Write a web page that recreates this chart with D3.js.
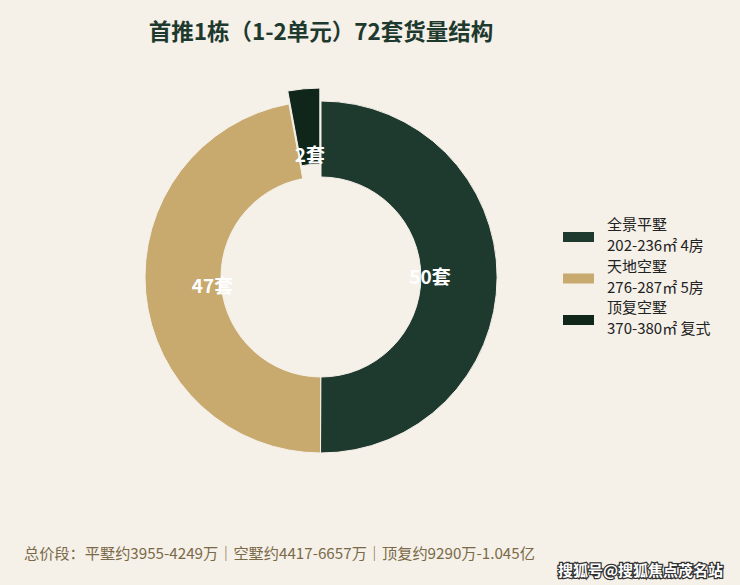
<!DOCTYPE html>
<html lang="zh">
<head>
    <meta charset="UTF-8">
    <title>首推1栋货量结构</title>
    <script src="https://cdnjs.cloudflare.com/ajax/libs/d3/7.8.5/d3.min.js"></script>
    <style>
        body { margin: 0; background: #f5f0e8; }
        text { font-family: "Noto Sans CJK SC", "Noto Sans", sans-serif; }
    </style>
</head>
<body>
    <script>
        // data
        var names = ["全景平墅", "天地空墅", "顶复空墅"];
        var areas = ["202-236㎡ 4房", "276-287㎡ 5房", "370-380㎡ 复式"];
        var counts = [50, 47, 2];
        var colors = ["#1e3a2f", "#c8a96e", "#10261a"];
        var exploded = [false, false, true];
        var title = "首推1栋（1-2单元）72套货量结构";
        var footer = "总价段：平墅约3955-4249万｜空墅约4417-6657万｜顶复约9290万-1.045亿";
        var watermark = "搜狐号@搜狐焦点茂名站";

        var W = 740, H = 585;
        var cx = 321, cy = 277, outerR = 176, innerR = 100, labelR = 109, offset = 13;
        var minAngle = 10.5 * Math.PI / 180;

        var svg = d3.select("body")
            .append("svg")
            .attr("width", W)
            .attr("height", H)
            .style("background-color", "#f5f0e8");

        // title
        svg.append("text")
            .attr("x", cx)
            .attr("y", 40)
            .attr("text-anchor", "middle")
            .attr("font-size", 22.5)
            .attr("font-weight", "bold")
            .attr("fill", "#1e3a2f")
            .text(title);

        // pie with a minimum slice angle, so the tiny slice stays visible
        var arcs = d3.pie().sort(null).value(function(d) { return d; })(counts);
        var total = d3.sum(counts);
        var small = arcs.filter(function(d) { return (d.value / total) * 2 * Math.PI < minAngle; });
        var smallSum = d3.sum(small, function(d) { return d.value; });
        var rest = 2 * Math.PI - small.length * minAngle;
        var a0 = 0;
        arcs.forEach(function(d) {
            var span = (d.value / total) * 2 * Math.PI < minAngle
                ? minAngle
                : rest * d.value / (total - smallSum);
            d.startAngle = a0;
            d.endAngle = a0 + span;
            a0 += span;
        });

        var arc = d3.arc().innerRadius(innerR).outerRadius(outerR);
        var labelArc = d3.arc().innerRadius(labelR).outerRadius(labelR);

        var g = svg.append("g").attr("transform", "translate(" + cx + "," + cy + ")");

        function shift(d, i) {
            if (!exploded[i]) return "translate(0,0)";
            var a = (d.startAngle + d.endAngle) / 2;
            return "translate(" + (Math.sin(a) * offset) + "," + (-Math.cos(a) * offset) + ")";
        }

        var slices = g.selectAll("g.slice")
            .data(arcs)
            .enter()
            .append("g")
            .attr("class", "slice")
            .attr("transform", shift);

        slices.append("path")
            .attr("d", arc)
            .attr("fill", function(d, i) { return colors[i]; })
            .attr("stroke", "#f5f0e8")
            .attr("stroke-width", 1);

        slices.append("text")
            .attr("transform", function(d) { return "translate(" + labelArc.centroid(d) + ")"; })
            .attr("text-anchor", "middle")
            .attr("dy", "0.35em")
            .attr("font-size", 19)
            .attr("font-weight", "bold")
            .attr("fill", "#ffffff")
            .text(function(d) { return d.value + "套"; });

        // legend
        var legendY = d3.scalePoint().domain(names).range([237, 320]);
        var legend = svg.selectAll("g.legend")
            .data(names)
            .enter()
            .append("g")
            .attr("class", "legend")
            .attr("transform", function(d) { return "translate(563," + legendY(d) + ")"; });

        legend.append("rect")
            .attr("x", 0)
            .attr("y", -5)
            .attr("width", 31)
            .attr("height", 10)
            .attr("fill", function(d, i) { return colors[i]; });

        legend.append("text")
            .attr("x", 44)
            .attr("y", -7)
            .attr("font-size", 15)
            .attr("fill", "#222222")
            .text(function(d) { return d; });

        legend.append("text")
            .attr("x", 44)
            .attr("y", 14)
            .attr("font-size", 15)
            .attr("fill", "#222222")
            .text(function(d, i) { return areas[i]; });

        // footer
        svg.append("text")
            .attr("x", 24)
            .attr("y", 559)
            .attr("font-size", 15.2)
            .attr("fill", "#7a6a48")
            .text(footer);

        // watermark
        svg.append("text")
            .attr("x", 723)
            .attr("y", 576)
            .attr("text-anchor", "end")
            .attr("font-size", 15)
            .attr("font-weight", "bold")
            .attr("fill", "#ffffff")
            .attr("stroke", "#333333")
            .attr("stroke-width", 2.5)
            .attr("paint-order", "stroke")
            .text(watermark);
    </script>
</body>
</html>
